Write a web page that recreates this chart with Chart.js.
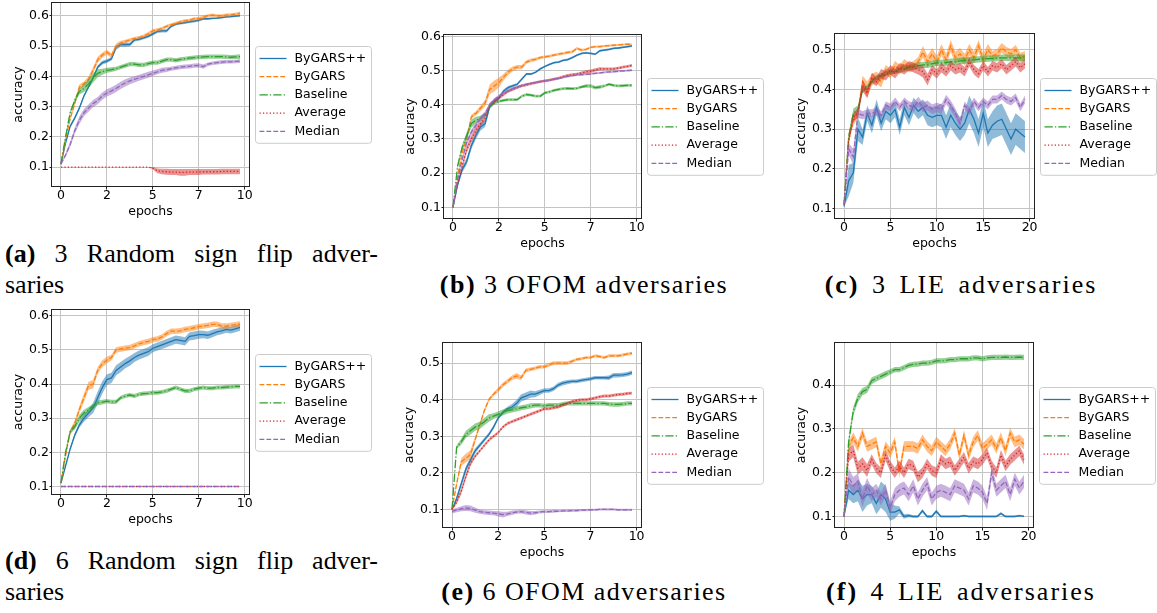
<!DOCTYPE html>
<html><head><meta charset="utf-8">
<script src="https://cdn.jsdelivr.net/npm/chart.js@4.4.1/dist/chart.umd.min.js"></script>
<style>
html,body{margin:0;padding:0;background:#fff;}
#fig{position:relative;width:1157px;height:613px;overflow:hidden;background:#fff;}
#fig canvas{position:absolute;}
.cap{position:absolute;font-family:"Liberation Serif",serif;font-size:26px;line-height:31px;color:#000;white-space:nowrap;letter-spacing:1.45px;}
.cap b{font-weight:bold;}
.just{text-align:justify;text-align-last:justify;}
.ctr{text-align:center;width:400px;}
.lie{letter-spacing:2px;word-spacing:4px;}
</style></head>
<body>
<div id="fig">
<canvas id="ca"></canvas><canvas id="cb"></canvas><canvas id="cc"></canvas>
<canvas id="cd"></canvas><canvas id="ce"></canvas><canvas id="cf"></canvas>
<div class="cap just" style="left:5px;top:238px;width:373px;letter-spacing:0"><b>(a)</b> 3 Random sign flip adver-</div>
<div class="cap" style="left:5px;top:269px;letter-spacing:0">saries</div>
<div class="cap ctr" style="left:384px;top:269px;"><b>(b)</b> 3 OFOM adversaries</div>
<div class="cap ctr lie" style="left:761px;top:269px;"><b>(c)</b> 3 LIE adversaries</div>
<div class="cap just" style="left:5px;top:545px;width:373px;letter-spacing:0"><b>(d)</b> 6 Random sign flip adver-</div>
<div class="cap" style="left:5px;top:576px;letter-spacing:0">saries</div>
<div class="cap ctr" style="left:384px;top:576px;"><b>(e)</b> 6 OFOM adversaries</div>
<div class="cap ctr lie" style="left:761px;top:576px;"><b>(f)</b> 4 LIE adversaries</div>
</div>
<script>
// ---------- data ----------
const seriesNames = ['ByGARS++','ByGARS','Baseline','Average','Median'];
const epochs10 = [0,0.25,0.5,0.75,1,1.25,1.5,1.75,2,2.25,2.5,2.75,3,3.25,3.5,3.75,4,4.25,4.5,4.75,5,5.25,5.5,5.75,6,6.25,6.5,6.75,7,7.25,7.5,7.75,8,8.25,8.5,8.75,9,9.25,9.5,9.75];
const epochs20 = [0,0.5,1,1.5,2,2.5,3,3.5,4,4.5,5,5.5,6,6.5,7,7.5,8,8.5,9,9.5,10,10.5,11,11.5,12,12.5,13,13.5,14,14.5,15,15.5,16,16.5,17,17.5,18,18.5,19,19.5];
const xTicks10 = [0,2.5,5,7.5,10];
const xTicks20 = [0,5,10,15,20];
const xTickLabels = ['0','2','5','7','10'];
const xTickLabels20 = ['0','5','10','15','20'];
const yTicks6 = [0.1,0.2,0.3,0.4,0.5,0.6];
const yTicks5 = [0.1,0.2,0.3,0.4,0.5];
const yTicks4 = [0.1,0.2,0.3,0.4];
const yTickLabels = ['0.1','0.2','0.3','0.4','0.5','0.6'];

// (a) 3 Random sign flip
const a_pp = [0.11,0.18,0.235,0.262,0.295,0.335,0.365,0.395,0.43,0.445,0.45,0.458,0.495,0.505,0.505,0.505,0.52,0.522,0.527,0.532,0.54,0.548,0.55,0.55,0.565,0.572,0.575,0.577,0.58,0.582,0.585,0.59,0.59,0.591,0.592,0.594,0.596,0.597,0.599,0.60];
const a_pp_sd = [0,0.004,0.005,0.005,0.005,0.005,0.005,0.005,0.006,0.006,0.006,0.006,0.007,0.007,0.007,0.006,0.005,0.005,0.005,0.005,0.005,0.005,0.005,0.005,0.004,0.004,0.004,0.004,0.004,0.004,0.004,0.004,0.003,0.003,0.003,0.003,0.003,0.003,0.003,0.003];
const a_by = [0.11,0.19,0.26,0.31,0.365,0.375,0.39,0.42,0.455,0.47,0.48,0.468,0.50,0.51,0.515,0.52,0.525,0.528,0.533,0.54,0.55,0.553,0.558,0.565,0.57,0.575,0.58,0.583,0.585,0.59,0.59,0.595,0.60,0.602,0.60,0.60,0.602,0.603,0.605,0.608];
const a_by_sd = [0,0.005,0.006,0.007,0.008,0.008,0.009,0.01,0.01,0.009,0.008,0.008,0.008,0.007,0.006,0.006,0.005,0.005,0.005,0.006,0.006,0.006,0.005,0.005,0.005,0.005,0.005,0.005,0.005,0.005,0.006,0.006,0.005,0.005,0.005,0.005,0.005,0.005,0.005,0.006];
const a_base = [0.11,0.20,0.28,0.32,0.35,0.36,0.375,0.395,0.41,0.415,0.42,0.422,0.425,0.43,0.435,0.44,0.44,0.438,0.438,0.442,0.445,0.445,0.45,0.455,0.455,0.453,0.456,0.458,0.46,0.462,0.463,0.464,0.465,0.465,0.465,0.465,0.464,0.463,0.464,0.465];
const a_base_sd = [0,0.005,0.006,0.008,0.01,0.012,0.015,0.015,0.013,0.01,0.008,0.008,0.007,0.007,0.007,0.007,0.007,0.007,0.007,0.007,0.007,0.007,0.007,0.007,0.007,0.007,0.007,0.007,0.007,0.007,0.007,0.007,0.007,0.007,0.007,0.007,0.007,0.007,0.007,0.008];
const a_avg = [0.1,0.1,0.1,0.1,0.1,0.1,0.1,0.1,0.1,0.1,0.1,0.1,0.1,0.1,0.1,0.1,0.1,0.1,0.1,0.1,0.097,0.088,0.086,0.085,0.084,0.084,0.083,0.083,0.084,0.084,0.084,0.085,0.085,0.085,0.085,0.086,0.086,0.086,0.086,0.086];
const a_avg_sd = [0,0,0,0,0,0,0,0,0,0,0,0,0,0,0,0,0,0,0,0,0.004,0.008,0.009,0.01,0.01,0.01,0.011,0.011,0.01,0.01,0.01,0.009,0.009,0.009,0.009,0.009,0.009,0.009,0.009,0.009];
const a_med = [0.11,0.14,0.175,0.22,0.255,0.28,0.295,0.31,0.32,0.335,0.345,0.352,0.36,0.37,0.378,0.385,0.39,0.395,0.40,0.405,0.41,0.415,0.42,0.422,0.425,0.428,0.43,0.432,0.433,0.435,0.436,0.432,0.44,0.443,0.445,0.447,0.448,0.448,0.449,0.45];
const a_med_sd = [0,0.006,0.008,0.01,0.012,0.012,0.012,0.012,0.012,0.012,0.012,0.012,0.012,0.012,0.012,0.011,0.01,0.01,0.01,0.01,0.009,0.008,0.008,0.008,0.007,0.007,0.007,0.007,0.007,0.007,0.007,0.007,0.006,0.006,0.006,0.006,0.006,0.006,0.006,0.006];

// (b) 3 OFOM
const b_pp = [0.10,0.165,0.21,0.235,0.28,0.31,0.335,0.345,0.395,0.41,0.42,0.44,0.45,0.455,0.46,0.475,0.49,0.49,0.495,0.505,0.512,0.518,0.523,0.525,0.53,0.532,0.538,0.545,0.55,0.552,0.55,0.548,0.558,0.56,0.562,0.565,0.566,0.568,0.57,0.572];
const b_pp_sd = [0,0.006,0.008,0.01,0.01,0.01,0.01,0.01,0.008,0.006,0.005,0.005,0.005,0.004,0.004,0.004,0.003,0.003,0.003,0.003,0.003,0.003,0.003,0.003,0.003,0.003,0.003,0.003,0.003,0.003,0.003,0.003,0.003,0.003,0.003,0.003,0.003,0.003,0.003,0.003];
const b_by = [0.10,0.19,0.26,0.30,0.365,0.375,0.39,0.405,0.445,0.455,0.465,0.48,0.495,0.505,0.51,0.51,0.525,0.53,0.533,0.538,0.54,0.542,0.545,0.548,0.55,0.553,0.555,0.565,0.56,0.562,0.568,0.57,0.57,0.572,0.573,0.574,0.575,0.576,0.577,0.576];
const b_by_sd = [0,0.005,0.006,0.006,0.006,0.006,0.008,0.01,0.014,0.016,0.014,0.01,0.008,0.007,0.006,0.006,0.005,0.005,0.005,0.004,0.004,0.004,0.004,0.004,0.004,0.004,0.004,0.004,0.004,0.003,0.003,0.003,0.003,0.003,0.003,0.003,0.003,0.003,0.003,0.003];
const b_base = [0.10,0.22,0.275,0.31,0.345,0.355,0.36,0.37,0.395,0.405,0.41,0.413,0.415,0.415,0.415,0.425,0.43,0.428,0.425,0.425,0.435,0.438,0.442,0.445,0.447,0.448,0.447,0.448,0.452,0.455,0.455,0.45,0.452,0.455,0.46,0.457,0.455,0.456,0.457,0.457];
const b_base_sd = [0,0.006,0.008,0.01,0.012,0.01,0.008,0.006,0.005,0.005,0.004,0.004,0.004,0.004,0.004,0.004,0.004,0.004,0.004,0.004,0.004,0.004,0.004,0.004,0.004,0.004,0.004,0.004,0.004,0.005,0.005,0.005,0.005,0.004,0.004,0.004,0.004,0.004,0.004,0.004];
const b_avg = [0.10,0.17,0.22,0.27,0.30,0.325,0.345,0.36,0.40,0.41,0.42,0.43,0.44,0.445,0.45,0.455,0.458,0.462,0.465,0.468,0.47,0.472,0.475,0.478,0.482,0.486,0.488,0.49,0.493,0.496,0.498,0.502,0.505,0.505,0.505,0.505,0.507,0.51,0.512,0.515];
const b_avg_sd = [0,0.006,0.008,0.01,0.01,0.01,0.008,0.007,0.006,0.005,0.005,0.005,0.005,0.005,0.004,0.004,0.004,0.004,0.004,0.004,0.004,0.004,0.004,0.004,0.004,0.004,0.004,0.004,0.004,0.005,0.005,0.005,0.005,0.004,0.004,0.004,0.004,0.004,0.004,0.004];
const b_med = [0.10,0.18,0.24,0.29,0.32,0.34,0.36,0.375,0.40,0.415,0.425,0.435,0.44,0.447,0.452,0.457,0.46,0.463,0.465,0.468,0.47,0.472,0.475,0.477,0.48,0.483,0.485,0.487,0.488,0.489,0.49,0.492,0.493,0.495,0.496,0.497,0.498,0.499,0.50,0.501];
const b_med_sd = [0,0.005,0.006,0.007,0.008,0.008,0.007,0.006,0.005,0.005,0.004,0.004,0.004,0.004,0.004,0.003,0.003,0.003,0.003,0.003,0.003,0.003,0.003,0.003,0.003,0.003,0.003,0.003,0.003,0.003,0.003,0.003,0.003,0.003,0.003,0.003,0.003,0.003,0.003,0.003];

// (c) 3 LIE
const c_pp = [0.105,0.17,0.19,0.30,0.28,0.34,0.31,0.355,0.315,0.345,0.335,0.35,0.305,0.355,0.33,0.36,0.345,0.355,0.335,0.33,0.335,0.335,0.305,0.335,0.315,0.30,0.315,0.35,0.325,0.29,0.34,0.29,0.31,0.32,0.325,0.30,0.275,0.30,0.29,0.28];
const c_pp_sd = [0,0.04,0.025,0.03,0.02,0.02,0.02,0.02,0.02,0.02,0.02,0.02,0.02,0.02,0.02,0.02,0.02,0.02,0.025,0.025,0.025,0.03,0.03,0.03,0.03,0.03,0.03,0.035,0.035,0.035,0.035,0.035,0.035,0.04,0.04,0.04,0.04,0.04,0.04,0.04];
const c_by = [0.11,0.28,0.32,0.34,0.42,0.40,0.425,0.43,0.42,0.45,0.44,0.46,0.45,0.465,0.455,0.46,0.47,0.495,0.47,0.49,0.47,0.50,0.475,0.51,0.48,0.49,0.475,0.50,0.48,0.51,0.475,0.50,0.485,0.49,0.505,0.495,0.49,0.50,0.48,0.485];
const c_by_sd = [0,0.01,0.01,0.012,0.015,0.02,0.015,0.015,0.015,0.012,0.012,0.012,0.012,0.012,0.012,0.012,0.012,0.015,0.015,0.015,0.015,0.015,0.015,0.015,0.015,0.015,0.015,0.015,0.015,0.015,0.015,0.015,0.012,0.012,0.012,0.012,0.012,0.012,0.012,0.012];
const c_base = [0.11,0.28,0.34,0.35,0.40,0.405,0.42,0.43,0.435,0.44,0.445,0.445,0.45,0.452,0.455,0.458,0.46,0.462,0.462,0.465,0.467,0.467,0.468,0.47,0.47,0.472,0.473,0.474,0.475,0.476,0.477,0.478,0.478,0.479,0.48,0.48,0.48,0.48,0.48,0.48];
const c_base_sd = [0,0.01,0.012,0.01,0.008,0.006,0.006,0.006,0.006,0.006,0.006,0.006,0.007,0.007,0.007,0.008,0.008,0.008,0.008,0.008,0.008,0.008,0.008,0.008,0.008,0.008,0.008,0.008,0.008,0.008,0.008,0.008,0.008,0.008,0.008,0.008,0.008,0.008,0.008,0.008];
const c_avg = [0.11,0.27,0.33,0.34,0.41,0.39,0.43,0.42,0.44,0.435,0.45,0.44,0.455,0.45,0.46,0.455,0.45,0.445,0.425,0.45,0.44,0.455,0.445,0.46,0.45,0.455,0.445,0.47,0.45,0.44,0.46,0.445,0.46,0.455,0.465,0.45,0.46,0.47,0.455,0.465];
const c_avg_sd = [0,0.01,0.01,0.012,0.015,0.012,0.012,0.012,0.012,0.012,0.012,0.012,0.012,0.012,0.012,0.012,0.012,0.015,0.015,0.012,0.012,0.012,0.012,0.012,0.012,0.012,0.012,0.012,0.012,0.012,0.012,0.012,0.012,0.012,0.012,0.012,0.012,0.012,0.012,0.012];
const c_med = [0.11,0.25,0.23,0.34,0.335,0.34,0.34,0.345,0.335,0.36,0.355,0.37,0.355,0.37,0.36,0.355,0.37,0.355,0.36,0.35,0.355,0.35,0.375,0.36,0.34,0.315,0.36,0.345,0.37,0.355,0.37,0.36,0.375,0.375,0.385,0.375,0.37,0.38,0.355,0.375];
const c_med_sd = [0,0.015,0.02,0.012,0.01,0.01,0.01,0.01,0.01,0.01,0.01,0.01,0.01,0.01,0.01,0.012,0.012,0.012,0.012,0.012,0.012,0.012,0.012,0.012,0.012,0.012,0.01,0.01,0.01,0.01,0.01,0.01,0.01,0.01,0.01,0.01,0.01,0.01,0.01,0.01];

// (d) 6 Random sign flip
const d_pp = [0.11,0.16,0.21,0.25,0.28,0.30,0.315,0.33,0.36,0.39,0.413,0.418,0.44,0.45,0.46,0.468,0.478,0.485,0.49,0.495,0.505,0.51,0.515,0.52,0.525,0.53,0.528,0.525,0.54,0.542,0.545,0.545,0.543,0.548,0.553,0.556,0.56,0.558,0.562,0.566];
const d_pp_sd = [0,0.004,0.005,0.006,0.008,0.01,0.012,0.015,0.018,0.018,0.016,0.015,0.015,0.015,0.014,0.014,0.013,0.013,0.013,0.013,0.012,0.012,0.012,0.012,0.012,0.012,0.012,0.012,0.012,0.012,0.012,0.011,0.011,0.011,0.01,0.01,0.01,0.01,0.01,0.01];
const d_by = [0.11,0.19,0.26,0.285,0.325,0.36,0.395,0.40,0.44,0.46,0.47,0.478,0.50,0.503,0.505,0.507,0.512,0.518,0.522,0.525,0.53,0.532,0.538,0.548,0.555,0.555,0.556,0.56,0.562,0.565,0.568,0.57,0.572,0.575,0.575,0.57,0.57,0.572,0.574,0.576];
const d_by_sd = [0,0.005,0.006,0.008,0.01,0.012,0.012,0.012,0.01,0.01,0.01,0.008,0.008,0.008,0.008,0.008,0.008,0.008,0.008,0.008,0.008,0.008,0.008,0.008,0.008,0.008,0.008,0.008,0.008,0.008,0.008,0.008,0.008,0.008,0.008,0.008,0.008,0.008,0.008,0.008];
const d_base = [0.11,0.20,0.26,0.275,0.30,0.315,0.325,0.335,0.345,0.347,0.35,0.348,0.348,0.36,0.365,0.368,0.365,0.37,0.372,0.373,0.375,0.375,0.377,0.38,0.385,0.39,0.385,0.38,0.38,0.385,0.388,0.39,0.388,0.388,0.39,0.39,0.391,0.392,0.393,0.393];
const d_base_sd = [0,0.005,0.006,0.008,0.01,0.01,0.008,0.007,0.007,0.007,0.006,0.006,0.006,0.006,0.006,0.006,0.006,0.006,0.006,0.006,0.006,0.006,0.006,0.006,0.006,0.006,0.006,0.006,0.006,0.006,0.006,0.006,0.006,0.006,0.006,0.006,0.006,0.006,0.006,0.006];
const d_avg = [0.1,0.1,0.1,0.1,0.1,0.1,0.1,0.1,0.1,0.1,0.1,0.1,0.1,0.1,0.1,0.1,0.1,0.1,0.1,0.1,0.1,0.1,0.1,0.1,0.1,0.1,0.1,0.1,0.1,0.1,0.1,0.1,0.1,0.1,0.1,0.1,0.1,0.1,0.1,0.1];
const d_med = [0.1,0.1,0.1,0.1,0.1,0.1,0.1,0.1,0.1,0.1,0.1,0.1,0.1,0.1,0.1,0.1,0.1,0.1,0.1,0.1,0.1,0.1,0.1,0.1,0.1,0.1,0.1,0.1,0.1,0.1,0.1,0.1,0.1,0.1,0.1,0.1,0.1,0.1,0.1,0.1];

// (e) 6 OFOM
const e_pp = [0.10,0.13,0.17,0.21,0.235,0.26,0.275,0.29,0.305,0.325,0.35,0.365,0.375,0.38,0.39,0.405,0.41,0.415,0.415,0.42,0.425,0.425,0.43,0.44,0.445,0.448,0.45,0.45,0.453,0.455,0.457,0.46,0.46,0.46,0.46,0.467,0.467,0.468,0.47,0.474];
const e_pp_sd = [0,0.006,0.008,0.008,0.008,0.007,0.006,0.005,0.005,0.005,0.005,0.005,0.006,0.008,0.01,0.01,0.01,0.01,0.008,0.007,0.006,0.006,0.006,0.006,0.006,0.006,0.005,0.005,0.005,0.005,0.005,0.005,0.005,0.005,0.006,0.006,0.006,0.006,0.006,0.006];
const e_by = [0.10,0.17,0.23,0.24,0.25,0.29,0.33,0.37,0.40,0.415,0.427,0.44,0.45,0.46,0.465,0.46,0.48,0.483,0.486,0.49,0.49,0.495,0.50,0.50,0.50,0.50,0.505,0.51,0.512,0.515,0.515,0.52,0.518,0.515,0.52,0.52,0.52,0.522,0.525,0.527];
const e_by_sd = [0,0.005,0.01,0.012,0.012,0.008,0.006,0.005,0.005,0.005,0.006,0.006,0.006,0.006,0.008,0.006,0.005,0.005,0.005,0.005,0.005,0.005,0.005,0.005,0.005,0.005,0.004,0.004,0.004,0.004,0.004,0.004,0.004,0.004,0.004,0.004,0.004,0.004,0.004,0.004];
const e_base = [0.10,0.27,0.285,0.305,0.315,0.325,0.33,0.34,0.35,0.355,0.36,0.365,0.37,0.372,0.375,0.378,0.38,0.383,0.385,0.385,0.383,0.385,0.385,0.385,0.388,0.39,0.39,0.39,0.39,0.39,0.39,0.39,0.39,0.39,0.388,0.387,0.387,0.388,0.39,0.39];
const e_base_sd = [0,0.005,0.008,0.01,0.01,0.01,0.01,0.01,0.01,0.008,0.008,0.008,0.008,0.007,0.007,0.007,0.007,0.007,0.006,0.006,0.006,0.006,0.006,0.006,0.006,0.006,0.006,0.006,0.006,0.006,0.006,0.006,0.006,0.006,0.006,0.006,0.006,0.006,0.006,0.006];
const e_avg = [0.10,0.12,0.15,0.19,0.225,0.245,0.26,0.275,0.29,0.30,0.31,0.325,0.335,0.34,0.345,0.35,0.355,0.36,0.365,0.37,0.375,0.375,0.378,0.38,0.385,0.39,0.395,0.398,0.40,0.40,0.402,0.405,0.408,0.41,0.41,0.412,0.414,0.415,0.417,0.418];
const e_avg_sd = [0,0.006,0.008,0.008,0.006,0.005,0.004,0.004,0.004,0.004,0.004,0.004,0.004,0.004,0.004,0.004,0.004,0.004,0.004,0.004,0.004,0.004,0.004,0.004,0.004,0.004,0.004,0.004,0.004,0.004,0.004,0.004,0.004,0.004,0.004,0.004,0.004,0.004,0.004,0.004];
const e_med = [0.095,0.098,0.102,0.104,0.103,0.098,0.094,0.092,0.091,0.09,0.088,0.086,0.088,0.091,0.093,0.094,0.092,0.09,0.091,0.093,0.094,0.094,0.095,0.095,0.096,0.096,0.097,0.097,0.098,0.098,0.099,0.099,0.1,0.1,0.1,0.1,0.099,0.099,0.099,0.099];
const e_med_sd = [0.006,0.006,0.007,0.008,0.008,0.007,0.006,0.006,0.006,0.006,0.007,0.008,0.006,0.006,0.005,0.005,0.006,0.006,0.005,0.004,0.004,0.004,0.004,0.003,0.003,0.003,0.003,0.003,0.003,0.003,0.003,0.003,0.003,0.003,0.003,0.003,0.003,0.003,0.003,0.003];

// (f) 4 LIE
const f_pp = [0.10,0.16,0.15,0.16,0.14,0.15,0.15,0.13,0.15,0.14,0.11,0.11,0.115,0.10,0.102,0.10,0.10,0.113,0.10,0.10,0.112,0.10,0.10,0.10,0.10,0.10,0.102,0.10,0.10,0.10,0.10,0.10,0.10,0.10,0.107,0.10,0.10,0.10,0.102,0.10];
const f_pp_sd = [0,0.02,0.02,0.025,0.03,0.025,0.02,0.025,0.03,0.03,0.02,0.015,0.008,0.005,0.004,0.003,0.003,0.004,0.003,0.003,0.004,0.002,0.002,0.002,0.002,0.002,0.002,0.002,0.002,0.002,0.002,0.002,0.002,0.002,0.003,0.002,0.002,0.002,0.002,0.002];
const f_by = [0.10,0.26,0.28,0.26,0.29,0.26,0.265,0.27,0.22,0.26,0.245,0.27,0.20,0.26,0.26,0.26,0.255,0.275,0.26,0.25,0.27,0.26,0.25,0.265,0.29,0.24,0.285,0.24,0.27,0.285,0.255,0.265,0.275,0.255,0.28,0.25,0.29,0.27,0.275,0.265];
const f_by_sd = [0,0.01,0.012,0.012,0.012,0.012,0.012,0.012,0.012,0.012,0.012,0.012,0.012,0.012,0.012,0.012,0.012,0.012,0.012,0.012,0.012,0.012,0.012,0.012,0.012,0.012,0.012,0.012,0.012,0.012,0.012,0.012,0.012,0.012,0.012,0.012,0.012,0.012,0.012,0.012];
const f_base = [0.10,0.27,0.34,0.37,0.385,0.39,0.41,0.415,0.42,0.425,0.43,0.435,0.435,0.44,0.445,0.447,0.448,0.45,0.45,0.452,0.455,0.455,0.456,0.458,0.458,0.46,0.46,0.46,0.462,0.462,0.46,0.462,0.463,0.463,0.463,0.464,0.463,0.463,0.464,0.463];
const f_base_sd = [0,0.01,0.01,0.01,0.008,0.008,0.008,0.007,0.007,0.007,0.006,0.006,0.006,0.006,0.006,0.006,0.006,0.006,0.006,0.006,0.006,0.006,0.006,0.006,0.006,0.006,0.006,0.006,0.006,0.006,0.006,0.006,0.006,0.006,0.006,0.006,0.006,0.006,0.006,0.006];
const f_avg = [0.10,0.24,0.25,0.21,0.22,0.205,0.23,0.21,0.20,0.24,0.215,0.20,0.215,0.20,0.22,0.215,0.19,0.20,0.22,0.205,0.20,0.23,0.22,0.225,0.205,0.22,0.235,0.21,0.225,0.22,0.23,0.245,0.215,0.20,0.24,0.215,0.23,0.24,0.25,0.23];
const f_avg_sd = [0,0.015,0.015,0.015,0.015,0.015,0.012,0.012,0.012,0.012,0.012,0.012,0.012,0.012,0.012,0.012,0.012,0.012,0.012,0.012,0.012,0.012,0.012,0.012,0.012,0.012,0.012,0.012,0.012,0.012,0.012,0.012,0.012,0.012,0.012,0.012,0.012,0.012,0.012,0.012];
const f_med = [0.10,0.19,0.17,0.18,0.14,0.17,0.15,0.16,0.14,0.16,0.12,0.15,0.16,0.165,0.15,0.17,0.14,0.16,0.175,0.14,0.155,0.16,0.155,0.15,0.17,0.165,0.16,0.14,0.17,0.165,0.155,0.13,0.20,0.16,0.17,0.18,0.15,0.185,0.165,0.18];
const f_med_sd = [0,0.02,0.02,0.018,0.018,0.018,0.015,0.015,0.015,0.015,0.015,0.015,0.015,0.015,0.015,0.015,0.015,0.015,0.015,0.015,0.015,0.015,0.015,0.015,0.015,0.015,0.015,0.015,0.015,0.015,0.015,0.015,0.015,0.015,0.015,0.015,0.015,0.015,0.015,0.015];

// ---------- styles / layout ----------
const STYLES = [
  {color:'#1f77b4', dash:[]},
  {color:'#ff7f0e', dash:[4.8,2.1]},
  {color:'#2ca02c', dash:[8.3,2.1,1.3,2.1]},
  {color:'#d62728', dash:[1.3,2.1]},
  {color:'#9467bd', dash:[4.8,2.1]}
];
const FONT = 'DejaVu Sans';
const AXL = 55, AXB = 45, PADT = 10;

function rgba(hex, a){
  const n = parseInt(hex.slice(1),16);
  return `rgba(${(n>>16)&255},${(n>>8)&255},${n&255},${a})`;
}

const framePlugin = {
  id:'frame',
  afterDatasetsDraw(chart){
    const {ctx, chartArea:a} = chart;
    ctx.save();
    ctx.strokeStyle = '#222'; ctx.lineWidth = 1; ctx.setLineDash([]);
    ctx.strokeRect(Math.round(a.left)-0.5, Math.round(a.top)-0.5, Math.round(a.right-a.left)+1, Math.round(a.bottom-a.top)+1);
    ctx.restore();
  }
};
const legendPlugin = {
  id:'mplLegend',
  afterDraw(chart){
    const {ctx, chartArea:a} = chart;
    const items = chart.data.datasets.filter(d => d.isMain);
    const bw = 116, rowH = 18.2, bh = 24 + rowH*(items.length-1);
    const bx = Math.round(a.right + 6) + 0.5;
    const by = Math.round((a.top + a.bottom)/2 - bh/2) + 0.5;
    ctx.save();
    const r = 3;
    ctx.beginPath();
    ctx.moveTo(bx+r,by); ctx.lineTo(bx+bw-r,by); ctx.arcTo(bx+bw,by,bx+bw,by+r,r);
    ctx.lineTo(bx+bw,by+bh-r); ctx.arcTo(bx+bw,by+bh,bx+bw-r,by+bh,r);
    ctx.lineTo(bx+r,by+bh); ctx.arcTo(bx,by+bh,bx,by+bh-r,r);
    ctx.lineTo(bx,by+r); ctx.arcTo(bx,by,bx+r,by,r); ctx.closePath();
    ctx.fillStyle = 'rgba(255,255,255,0.8)'; ctx.fill();
    ctx.strokeStyle = '#cccccc'; ctx.lineWidth = 1; ctx.stroke();
    items.forEach((d,k) => {
      const y = by + 12 + k*rowH;
      ctx.beginPath();
      ctx.setLineDash(d.borderDash || []);
      ctx.strokeStyle = d.borderColor; ctx.lineWidth = d.borderWidth;
      ctx.moveTo(bx+4, y); ctx.lineTo(bx+31, y); ctx.stroke();
      ctx.setLineDash([]);
      ctx.fillStyle = '#000'; ctx.font = `12.5px "${FONT}"`;
      ctx.textBaseline = 'middle'; ctx.textAlign = 'left';
      ctx.fillText(d.label, bx+39, y);
    });
    ctx.restore();
  }
};

function buildDatasets(series){
  const ds = [];
  series.forEach((s,k) => {
    const st = STYLES[k];
    if (s.sd) {
      ds.push({label:'', data:s.mean.map((m,i)=>m - s.sd[i]), borderWidth:0, borderColor:'transparent', pointRadius:0, fill:false});
      ds.push({label:'', data:s.mean.map((m,i)=>m + s.sd[i]), borderWidth:0, borderColor:'transparent', pointRadius:0, fill:'-1', backgroundColor:rgba(st.color,0.5)});
    }
    ds.push({label:seriesNames[k], data:s.mean, borderColor:st.color, borderWidth:1.3, borderDash:st.dash, borderCapStyle:'butt', pointRadius:0, fill:false, tension:0, isMain:true});
  });
  ds.forEach((d,i) => { d.order = ds.length - i; });
  return ds;
}

function makePanel(p){
  const cv = document.getElementById(p.id);
  const left = p.L - AXL, top = p.T - PADT;
  const right = Math.min(p.R + 126, 1157);
  const w = right - left, h = (p.B - p.T) + PADT + AXB;
  cv.width = w; cv.height = h;
  cv.style.left = left + 'px'; cv.style.top = top + 'px';
  cv.style.width = w + 'px'; cv.style.height = h + 'px';
  const tickFont = {family:FONT, size:12.5, lineHeight:1};
  const titleFont = {family:FONT, size:12.5, lineHeight:1.2};
  new Chart(cv, {
    type:'line',
    data:{labels:p.x, datasets:buildDatasets(p.series)},
    options:{
      responsive:false, animation:false, devicePixelRatio:1, events:[],
      layout:{padding:{left:0, top:PADT, right:w - AXL - (p.R - p.L), bottom:0}},
      plugins:{legend:{display:false}, tooltip:{enabled:false}},
      scales:{
        x:{type:'linear', min:p.xMin, max:p.xMax,
          afterBuildTicks:s => { s.ticks = p.xTicks.map(v => ({value:v})); },
          afterFit:s => { s.height = AXB; s.paddingLeft = 0; s.paddingRight = 0; },
          ticks:{callback:(v,i) => p.xLabels[i], font:tickFont, color:'#000', padding:0, maxRotation:0, autoSkip:false},
          grid:{color:'#c4c4c4', lineWidth:1, drawTicks:true, tickLength:3.5, tickColor:'#222', tickWidth:1},
          border:{display:false},
          title:{display:true, text:'epochs', font:titleFont, color:'#000', padding:{top:0, bottom:12}}
        },
        y:{type:'linear', min:p.yMin, max:p.yMax,
          afterBuildTicks:s => { s.ticks = p.yTicks.map(v => ({value:v})); },
          afterFit:s => { s.width = AXL; s.paddingTop = 0; s.paddingBottom = 0; },
          ticks:{callback:(v,i) => yTickLabels[i], font:tickFont, color:'#000', padding:0.5, autoSkip:false},
          grid:{color:'#c4c4c4', lineWidth:1, drawTicks:true, tickLength:2.5, tickColor:'#222', tickWidth:1},
          border:{display:false},
          title:{display:true, text:'accuracy', font:titleFont, color:'#000', padding:{top:14, bottom:0}}
        }
      }
    },
    plugins:[framePlugin, legendPlugin]
  });
}

const panels = [
  {id:'ca', L:52, T:3, R:249, B:186, x:epochs10, xMin:-0.4875, xMax:10.2375, xTicks:xTicks10, xLabels:xTickLabels, yMin:0.038, yMax:0.642, yTicks:yTicks6,
   series:[{mean:a_pp,sd:a_pp_sd},{mean:a_by,sd:a_by_sd},{mean:a_base,sd:a_base_sd},{mean:a_avg,sd:a_avg_sd},{mean:a_med,sd:a_med_sd}]},
  {id:'cb', L:444, T:35, R:641, B:218, x:epochs10, xMin:-0.4875, xMax:10.2375, xTicks:xTicks10, xLabels:xTickLabels, yMin:0.069, yMax:0.604, yTicks:yTicks6,
   series:[{mean:b_pp,sd:b_pp_sd},{mean:b_by,sd:b_by_sd},{mean:b_base,sd:b_base_sd},{mean:b_avg,sd:b_avg_sd},{mean:b_med,sd:b_med_sd}]},
  {id:'cc', L:835, T:34, R:1034, B:218, x:epochs20, xMin:-0.975, xMax:20.475, xTicks:xTicks20, xLabels:xTickLabels20, yMin:0.076, yMax:0.540, yTicks:yTicks5,
   series:[{mean:c_pp,sd:c_pp_sd},{mean:c_by,sd:c_by_sd},{mean:c_base,sd:c_base_sd},{mean:c_avg,sd:c_avg_sd},{mean:c_med,sd:c_med_sd}]},
  {id:'cd', L:52, T:310, R:249, B:494, x:epochs10, xMin:-0.4875, xMax:10.2375, xTicks:xTicks10, xLabels:xTickLabels, yMin:0.078, yMax:0.617, yTicks:yTicks6,
   series:[{mean:d_pp,sd:d_pp_sd},{mean:d_by,sd:d_by_sd},{mean:d_base,sd:d_base_sd},{mean:d_avg,sd:null},{mean:d_med,sd:null}]},
  {id:'ce', L:443, T:343, R:641, B:527, x:epochs10, xMin:-0.4875, xMax:10.2375, xTicks:xTicks10, xLabels:xTickLabels, yMin:0.052, yMax:0.555, yTicks:yTicks5,
   series:[{mean:e_pp,sd:e_pp_sd},{mean:e_by,sd:e_by_sd},{mean:e_base,sd:e_base_sd},{mean:e_avg,sd:e_avg_sd},{mean:e_med,sd:e_med_sd}]},
  {id:'cf', L:835, T:343, R:1033, B:527, x:epochs20, xMin:-0.975, xMax:20.475, xTicks:xTicks20, xLabels:xTickLabels20, yMin:0.076, yMax:0.496, yTicks:yTicks4,
   series:[{mean:f_pp,sd:f_pp_sd},{mean:f_by,sd:f_by_sd},{mean:f_base,sd:f_base_sd},{mean:f_avg,sd:f_avg_sd},{mean:f_med,sd:f_med_sd}]}
];
panels.forEach(makePanel);
</script>
</body></html>
